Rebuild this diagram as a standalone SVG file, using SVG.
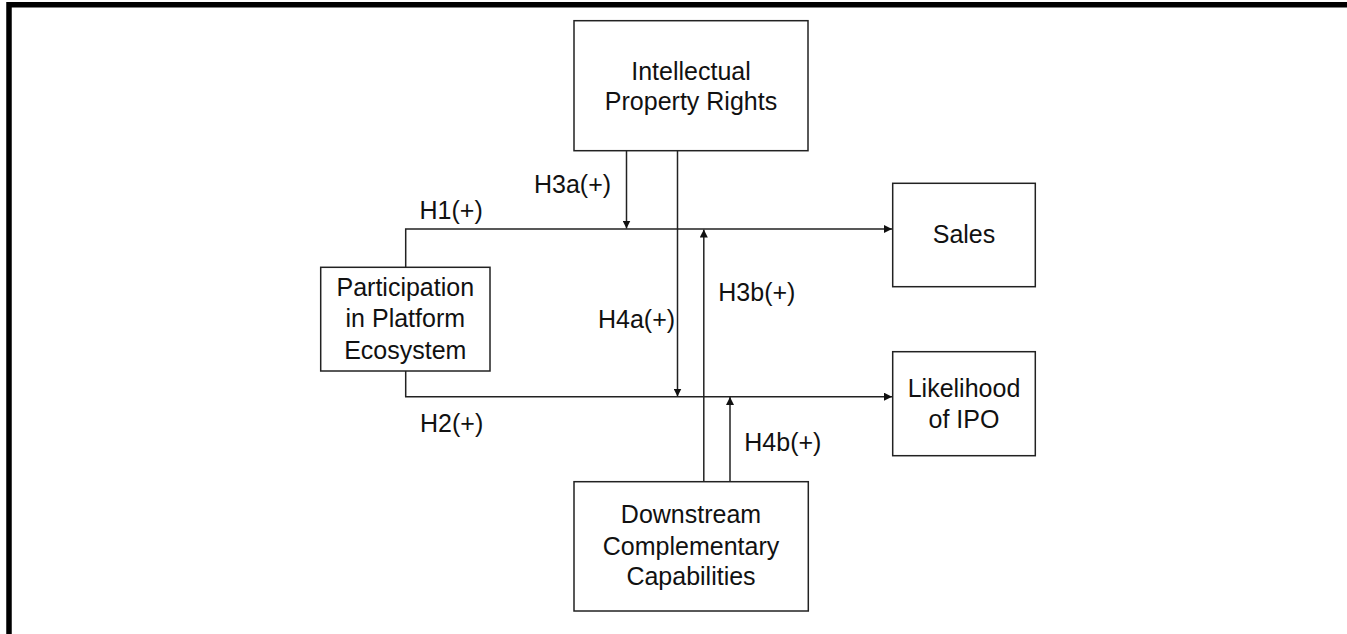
<svg xmlns="http://www.w3.org/2000/svg" width="1347" height="634" viewBox="0 0 1347 634">
<defs>
<style>
.box{fill:#fff;stroke:#222;stroke-width:1.5}
.ln{fill:none;stroke:#222;stroke-width:1.5}
text{font-family:"Liberation Sans",Arial,sans-serif;font-size:25px;fill:#111}
.c{text-anchor:middle}
</style>
<marker id="ah" viewBox="0 0 10 10" refX="10" refY="5" markerWidth="8" markerHeight="8" markerUnits="userSpaceOnUse" orient="auto">
<path d="M0,0 L10,5 L0,10 z" fill="#111"/>
</marker>
</defs>
<rect x="0" y="0" width="1347" height="634" fill="#fff"/>
<path d="M9,634 V4.7 H1347" fill="none" stroke="#000" stroke-width="5.5"/>
<g id="connectors">
<path class="ln" d="M405.7,267.3 V229 H892" marker-end="url(#ah)"/>
<path class="ln" d="M405.7,371 V396.7 H892" marker-end="url(#ah)"/>
<path class="ln" d="M626.5,151 V228.5" marker-end="url(#ah)"/>
<path class="ln" d="M677.5,151 V396.5" marker-end="url(#ah)"/>
<path class="ln" d="M703.8,481.7 V229.5" marker-end="url(#ah)"/>
<path class="ln" d="M730,481.7 V397" marker-end="url(#ah)"/>
<text x="419.5" y="219">H1(+)</text>
<text x="420" y="431.7">H2(+)</text>
<text x="534" y="192.7">H3a(+)</text>
<text x="598" y="327.7">H4a(+)</text>
<text x="718.3" y="300.7">H3b(+)</text>
<text x="744.3" y="451">H4b(+)</text>
</g>
<g id="ipr">
<rect class="box" x="574" y="20.7" width="234" height="130"/>
<text class="c" x="691" y="79.5">Intellectual</text>
<text class="c" x="691" y="110">Property Rights</text>
</g>
<g id="participation">
<rect class="box" x="320.7" y="267.3" width="169.3" height="103.7"/>
<text class="c" x="405.3" y="295.7">Participation</text>
<text class="c" x="405.3" y="327.3">in Platform</text>
<text class="c" x="405.3" y="358.7">Ecosystem</text>
</g>
<g id="sales">
<rect class="box" x="892.7" y="183.3" width="142.6" height="103.4"/>
<text class="c" x="964" y="243.3">Sales</text>
</g>
<g id="ipo">
<rect class="box" x="892.7" y="351.7" width="142.6" height="104"/>
<text class="c" x="964" y="396.7">Likelihood</text>
<text class="c" x="964" y="427.7">of IPO</text>
</g>
<g id="downstream">
<rect class="box" x="574" y="481.7" width="234.3" height="129.3"/>
<text class="c" x="691" y="523.3">Downstream</text>
<text class="c" x="691" y="555">Complementary</text>
<text class="c" x="691" y="584.5">Capabilities</text>
</g>
</svg>
